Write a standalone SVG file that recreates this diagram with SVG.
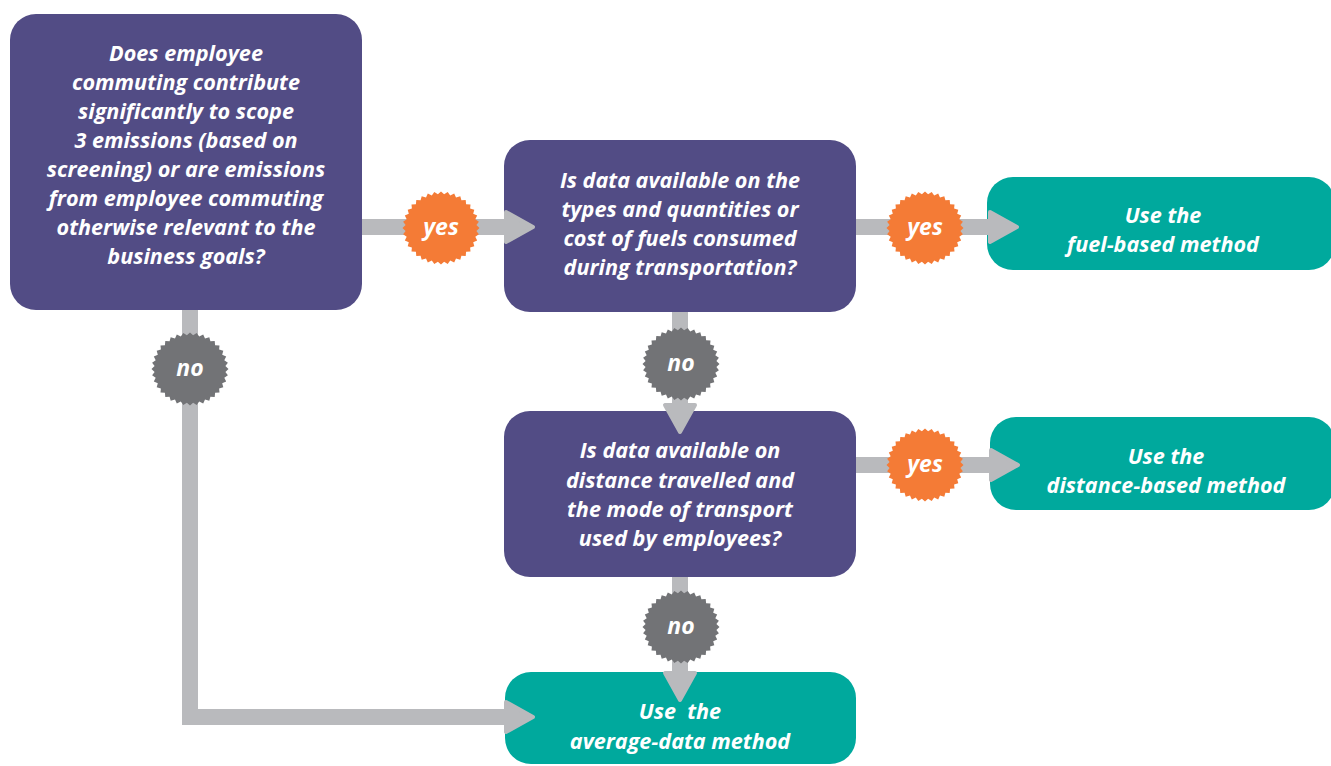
<svg xmlns="http://www.w3.org/2000/svg" width="1331" height="766" viewBox="0 0 1331 766">
<style>
.q{fill:#524C85}
.a{fill:#00A99D}
.t{font-family:"Open Sans","Liberation Sans",sans-serif;font-weight:700;font-style:italic;font-size:21.6px;fill:#fff;text-anchor:middle}
.c{fill:none;stroke:#B9BABD;stroke-width:16}
.by{fill:#F47B36}
.bn{fill:#727376}
.bt{font-family:"Open Sans","Liberation Sans",sans-serif;font-weight:700;font-style:italic;font-size:23px;fill:#fff;text-anchor:middle}
</style>
<defs>
<marker id="ah" markerUnits="userSpaceOnUse" markerWidth="34" markerHeight="36" refX="12" refY="18" orient="auto" overflow="visible">
<path d="M3,3 L30,18 L3,33 Z" fill="#B9BABD" stroke="#B9BABD" stroke-width="4" stroke-linejoin="round"/>
</marker>
<polygon id="burst" points="38.5,0 35.4,3.1 37.9,6.7 34.3,9.2 36.2,13.2 32.2,15 33.3,19.3 29.1,20.4 29.5,24.7 25.1,25.1 24.7,29.5 20.4,29.1 19.3,33.3 15,32.2 13.2,36.2 9.2,34.3 6.7,37.9 3.1,35.4 0,38.5 -3.1,35.4 -6.7,37.9 -9.2,34.3 -13.2,36.2 -15,32.2 -19.3,33.3 -20.4,29.1 -24.7,29.5 -25.1,25.1 -29.5,24.7 -29.1,20.4 -33.3,19.3 -32.2,15 -36.2,13.2 -34.3,9.2 -37.9,6.7 -35.4,3.1 -38.5,0 -35.4,-3.1 -37.9,-6.7 -34.3,-9.2 -36.2,-13.2 -32.2,-15 -33.3,-19.3 -29.1,-20.4 -29.5,-24.7 -25.1,-25.1 -24.7,-29.5 -20.4,-29.1 -19.3,-33.3 -15,-32.2 -13.2,-36.2 -9.2,-34.3 -6.7,-37.9 -3.1,-35.4 0,-38.5 3.1,-35.4 6.7,-37.9 9.2,-34.3 13.2,-36.2 15,-32.2 19.3,-33.3 20.4,-29.1 24.7,-29.5 25.1,-25.1 29.5,-24.7 29.1,-20.4 33.3,-19.3 32.2,-15 36.2,-13.2 34.3,-9.2 37.9,-6.7 35.4,-3.1"/>
</defs>
<rect width="1331" height="766" fill="#fff"/>

<g id="q1">
<rect class="q" x="10" y="14" width="352" height="296" rx="26"/>
<text class="t" x="186" y="61">Does employee</text>
<text class="t" x="186" y="90">commuting contribute</text>
<text class="t" x="186" y="119">significantly to scope</text>
<text class="t" x="186" y="148">3 emissions (based on</text>
<text class="t" x="186" y="177">screening) or are emissions</text>
<text class="t" x="186" y="206">from employee commuting</text>
<text class="t" x="186" y="235">otherwise relevant to the</text>
<text class="t" x="186" y="264">business goals?</text>
</g>
<g id="q2">
<rect class="q" x="504" y="140" width="352" height="172" rx="26"/>
<text class="t" x="680" y="188">Is data available on the</text>
<text class="t" x="680" y="217">types and quantities or</text>
<text class="t" x="680" y="246">cost of fuels consumed</text>
<text class="t" x="680" y="275">during transportation?</text>
</g>
<g id="q3">
<rect class="q" x="504" y="411" width="352" height="166" rx="26"/>
<text class="t" x="680" y="458">Is data available on</text>
<text class="t" x="680" y="488">distance travelled and</text>
<text class="t" x="680" y="517">the mode of transport</text>
<text class="t" x="680" y="546">used by employees?</text>
</g>
<g id="fuel">
<rect class="a" x="987" y="177" width="348" height="93" rx="26"/>
<text class="t" x="1163" y="223">Use the</text>
<text class="t" x="1163" y="252">fuel-based method</text>
</g>
<g id="distance">
<rect class="a" x="990" y="417" width="345" height="93" rx="26"/>
<text class="t" x="1166" y="464">Use the</text>
<text class="t" x="1166" y="493">distance-based method</text>
</g>
<g id="average">
<rect class="a" x="505" y="672" width="351" height="92" rx="26"/>
<text class="t" x="680" y="719" xml:space="preserve">Use  the</text>
<text class="t" x="680" y="749">average-data method</text>
</g>

<g id="connectors">
<path class="c" d="M362,227 H515" marker-end="url(#ah)"/>
<path class="c" d="M856,227 H999" marker-end="url(#ah)"/>
<path class="c" d="M856,465 H1000" marker-end="url(#ah)"/>
<path class="c" d="M680,312 V414" marker-end="url(#ah)"/>
<path class="c" d="M680,577 V682" marker-end="url(#ah)"/>
<path class="c" d="M190,310 V717 H515" marker-end="url(#ah)"/>
</g>

<g id="badge-yes-1"><use href="#burst" class="by" transform="translate(441,228) scale(1,0.95)"/><text class="bt" x="441" y="235">yes</text></g>
<g id="badge-yes-2"><use href="#burst" class="by" transform="translate(925,228) scale(1,0.95)"/><text class="bt" x="925" y="235">yes</text></g>
<g id="badge-yes-3"><use href="#burst" class="by" transform="translate(925,465) scale(1,0.95)"/><text class="bt" x="925" y="472">yes</text></g>
<g id="badge-no-1"><use href="#burst" class="bn" transform="translate(190,369) scale(1,0.95)"/><text class="bt" x="190" y="376">no</text></g>
<g id="badge-no-2"><use href="#burst" class="bn" transform="translate(681,364) scale(1,0.95)"/><text class="bt" x="681" y="371">no</text></g>
<g id="badge-no-3"><use href="#burst" class="bn" transform="translate(681,627) scale(1,0.95)"/><text class="bt" x="681" y="634">no</text></g>
</svg>
